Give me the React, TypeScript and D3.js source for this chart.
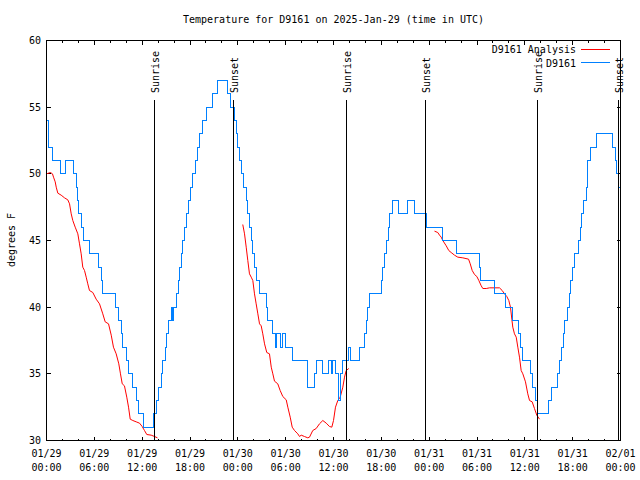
import React from "react";
import * as d3 from "d3";

const T0 = Date.UTC(2025, 0, 29);
const hoursToDate = (h: number) => new Date(T0 + h * 3600000);

// Observed station temperature (hours since 01/29 00:00 UTC, degrees F)
const observed: [number, number][] = [
  [0, 54], [0.19, 53], [0.31, 52], [0.75, 51], [1.72, 50], [2.38, 51], [3.42, 50], [3.73, 49],
  [3.93, 48], [4.05, 47], [4.35, 46], [4.68, 45], [5.39, 44], [6.52, 43], [6.84, 42], [7.06, 41],
  [8.62, 40], [9.03, 39], [9.37, 38], [9.57, 37], [10.07, 36], [10.25, 35], [10.83, 34], [11.25, 33],
  [11.54, 32], [12.2, 31], [13.42, 32], [13.76, 33], [14.11, 34], [14.39, 35], [14.61, 36], [14.93, 37],
  [15.11, 38], [15.3, 39], [15.64, 40], [15.8, 39], [15.99, 40], [16.27, 41], [16.5, 42], [16.68, 43],
  [16.9, 44], [17.12, 45], [17.31, 46], [17.52, 47], [17.78, 48], [18.03, 49], [18.35, 50], [18.67, 51],
  [18.98, 52], [19.19, 53], [19.61, 54], [20.03, 55], [20.86, 56], [21.49, 57], [22.74, 56], [23.14, 55],
  [23.52, 54], [23.77, 53], [23.96, 52], [24.21, 51], [24.43, 50], [24.72, 49], [25.05, 48], [25.21, 47],
  [25.46, 46], [25.68, 45], [25.88, 44], [26.09, 43], [26.3, 42], [26.71, 41], [27.56, 40], [27.76, 39],
  [28.31, 38], [28.72, 37], [28.88, 38], [29.36, 37], [29.65, 38], [29.94, 37], [30.82, 36], [32.78, 34],
  [33.62, 35], [33.9, 36], [34.66, 35], [35.41, 36], [35.71, 35], [35.91, 36], [36.25, 35], [36.57, 33],
  [36.82, 35], [37.17, 36], [37.92, 37], [38.07, 36], [39.26, 37], [39.89, 38], [40.14, 39], [40.3, 40],
  [40.52, 41], [41.98, 42], [42.18, 43], [42.4, 44], [42.61, 45], [42.84, 46], [43.03, 47], [43.44, 48],
  [44.19, 47], [45.25, 48], [46.16, 47], [47.63, 46], [49.71, 45], [51.47, 44], [54.31, 43], [54.5, 42],
  [56.2, 41], [57.54, 40], [58.42, 39], [59.25, 38], [59.42, 37], [59.75, 36], [60.71, 35], [61.0, 34],
  [61.3, 33], [61.62, 32], [63.01, 33], [63.35, 34], [64.1, 35], [64.35, 36], [64.6, 37], [64.79, 38],
  [64.98, 39], [65.29, 40], [65.6, 41], [65.79, 42], [66.02, 43], [66.23, 44], [66.73, 45], [66.92, 46],
  [67.17, 47], [67.42, 48], [67.7, 49], [67.8, 50], [67.9, 51], [68.24, 52], [68.95, 53], [71.03, 52],
  [71.33, 51], [71.53, 50], [71.75, 49], [72, 49],
];

// Analysis temperature, three separate runs
const analysisDay1: [number, number][] = [
  [0, 50.0], [0.5, 50.1], [0.75, 50.0], [0.88, 49.75], [1.09, 49.4], [1.22, 49.0], [1.42, 48.55],
  [1.84, 48.4], [2.26, 48.2], [2.67, 48.05], [2.89, 47.75], [3.1, 47.0], [3.3, 46.5], [3.6, 46.0],
  [3.93, 45.5], [4.14, 44.75], [4.35, 44.0], [4.55, 43.0], [4.77, 42.75], [4.98, 42.25], [5.18, 41.75],
  [5.39, 41.25], [5.81, 41.1], [6.23, 40.6], [6.65, 40.25], [7.06, 39.5], [7.36, 38.9], [7.78, 38.75],
  [8.12, 37.9], [8.4, 37.0], [8.74, 36.5], [9.07, 35.75], [9.28, 35.0], [9.5, 34.25], [9.78, 34.1],
  [10.07, 33.25], [10.29, 32.5], [10.5, 31.6], [10.83, 31.5], [11.25, 31.4], [11.67, 31.3], [12.0, 31.05],
  [12.29, 30.75], [12.58, 30.45], [13.13, 30.4], [13.55, 30.3], [13.92, 30.2],
];
const analysisDay2: [number, number][] = [
  [24.62, 46.2], [24.84, 45.5], [25.05, 44.5], [25.25, 43.5], [25.46, 42.5], [25.68, 42.25], [25.88, 42.0],
  [26.09, 41.0], [26.3, 40.25], [26.51, 39.5], [26.72, 38.75], [26.93, 38.6], [27.13, 38.0], [27.35, 37.25],
  [27.63, 36.6], [27.97, 36.5], [28.19, 35.5], [28.39, 35.0], [28.6, 34.45], [29.01, 34.25], [29.31, 33.75],
  [29.64, 33.3], [30.07, 33.05], [30.27, 32.5], [30.57, 31.75], [30.82, 31.0], [31.11, 30.75], [31.52, 30.5],
  [31.74, 30.3], [31.95, 30.4], [32.36, 30.3], [32.78, 30.2], [32.99, 30.25], [33.4, 30.75], [33.83, 30.9],
  [34.24, 31.25], [34.66, 31.5], [35.09, 31.3], [35.5, 31.05], [35.79, 31.0], [36.0, 31.5], [36.25, 32.5],
  [36.54, 33.0], [36.84, 33.25], [37.17, 34.0], [37.38, 34.75], [37.59, 35.25], [37.92, 35.4],
];
const analysisDay3: [number, number][] = [
  [48.67, 45.7], [49.08, 45.6], [49.3, 45.4], [49.51, 45.25], [49.71, 45.0], [50.14, 44.6], [50.46, 44.25],
  [50.76, 44.1], [51.18, 43.9], [51.59, 43.75], [52.22, 43.7], [52.94, 43.6], [53.15, 43.25], [53.4, 42.75],
  [53.69, 42.45], [53.98, 42.3], [54.23, 42.0], [54.53, 41.6], [54.73, 41.4], [55.16, 41.4], [55.57, 41.45],
  [56.82, 41.45], [57.16, 41.25], [57.45, 41.0], [57.74, 40.8], [57.99, 40.5], [58.2, 40.0], [58.37, 39.1],
  [58.49, 38.5], [58.7, 38.0], [58.92, 37.75], [59.12, 37.0], [59.33, 36.25], [59.54, 35.25], [59.75, 35.0],
  [60.08, 34.4], [60.37, 33.5], [60.59, 33.0], [60.92, 32.9], [61.21, 32.4], [61.5, 31.9], [61.84, 31.6],
];

const sunEvents: [string, number][] = [
  ["Sunrise", 13.55], ["Sunset", 23.5], ["Sunrise", 37.67],
  ["Sunset", 47.58], ["Sunrise", 61.63], ["Sunset", 71.71],
];

const yTicks = [30, 35, 40, 45, 50, 55, 60];
const titleText = "Temperature for D9161 on 2025-Jan-29 (time in UTC)";
const yLabel = "degrees F";
const legendLabels = ["D9161 Analysis", "D9161"];
const RED = "#ff0000";
const BLUE = "#0080ff";
const FONT = "'DejaVu Sans Mono', 'Liberation Mono', monospace";

export default function App() {
  const W = 640, H = 480;
  const L = 46.5, R = 620.5, T = 40.5, B = 440.5;
  const x = d3.scaleUtc().domain([hoursToDate(0), hoursToDate(72)]).range([L, R]);
  const y = d3.scaleLinear().domain([30, 60]).range([B, T]);

  const majorTicks = x.ticks(d3.utcHour.every(6)!);
  const minorTicks = x.ticks(d3.utcHour.every(2)!);
  const fmtDay = d3.utcFormat("%m/%d");
  const fmtTime = d3.utcFormat("%H:%M");

  const stepLine = d3.line<[number, number]>()
    .x((d) => x(hoursToDate(d[0])))
    .y((d) => y(d[1]))
    .curve(d3.curveStepAfter);
  const line = d3.line<[number, number]>()
    .x((d) => x(hoursToDate(d[0])))
    .y((d) => y(d[1]));

  const snap = (v: number) => Math.round(v - 0.5) + 0.5;

  return (
    <svg width={W} height={H} style={{ position: "absolute", left: 0, top: 0, background: "#fff" }}
      fontFamily={FONT} fontSize={10}>
      <rect x={0} y={0} width={W} height={H} fill="#fff" />
      <text x={333.5} y={23} textAnchor="middle">{titleText}</text>
      <text transform={`translate(15,240) rotate(-90)`} textAnchor="middle">{yLabel}</text>

      {/* ticks */}
      <g stroke="#000" strokeWidth={1} shapeRendering="crispEdges">
        {minorTicks.map((t, i) => {
          const xx = snap(x(t));
          return (
            <g key={"m" + i}>
              <line x1={xx} x2={xx} y1={B} y2={B - 2} />
              <line x1={xx} x2={xx} y1={T} y2={T + 2} />
            </g>
          );
        })}
        {majorTicks.map((t, i) => {
          const xx = snap(x(t));
          return (
            <g key={"M" + i}>
              <line x1={xx} x2={xx} y1={B} y2={B - 4} />
              <line x1={xx} x2={xx} y1={T} y2={T + 4} />
            </g>
          );
        })}
        {yTicks.map((v) => {
          const yy = snap(y(v));
          return (
            <g key={"y" + v}>
              <line x1={L} x2={L + 4} y1={yy} y2={yy} />
              <line x1={R} x2={R - 4} y1={yy} y2={yy} />
            </g>
          );
        })}
      </g>

      {yTicks.map((v) => (
        <text key={"yl" + v} x={41} y={y(v) + 3.5} textAnchor="end">{v}</text>
      ))}
      {majorTicks.map((t, i) => (
        <g key={"xl" + i}>
          <text x={x(t)} y={457} textAnchor="middle">{fmtDay(t)}</text>
          <text x={x(t)} y={471} textAnchor="middle">{fmtTime(t)}</text>
        </g>
      ))}

      {/* data */}
      <g fill="none" strokeWidth={1}>
        <path d={line(analysisDay1) || ""} stroke={RED} />
        <path d={line(analysisDay2) || ""} stroke={RED} />
        <path d={line(analysisDay3) || ""} stroke={RED} />
        <path d={stepLine(observed) || ""} stroke={BLUE} shapeRendering="crispEdges" />
      </g>

      {/* sunrise / sunset */}
      {sunEvents.map(([label, h], i) => {
        const xx = snap(x(hoursToDate(h)));
        return (
          <g key={"s" + i}>
            <line x1={xx} x2={xx} y1={100} y2={B} stroke="#000" strokeWidth={1} shapeRendering="crispEdges" />
            <text transform={`translate(${xx + 4.5},93) rotate(-90)`} textAnchor="start">{label}</text>
          </g>
        );
      })}

      {/* legend */}
      <text x={576} y={53} textAnchor="end">{legendLabels[0]}</text>
      <line x1={581} x2={610} y1={49.5} y2={49.5} stroke={RED} strokeWidth={1} shapeRendering="crispEdges" />
      <text x={576} y={66.5} textAnchor="end">{legendLabels[1]}</text>
      <line x1={581} x2={610} y1={62.5} y2={62.5} stroke={BLUE} strokeWidth={1} shapeRendering="crispEdges" />

      {/* border */}
      <rect x={L} y={T} width={R - L} height={B - T} fill="none" stroke="#000" strokeWidth={1} shapeRendering="crispEdges" />
    </svg>
  );
}
